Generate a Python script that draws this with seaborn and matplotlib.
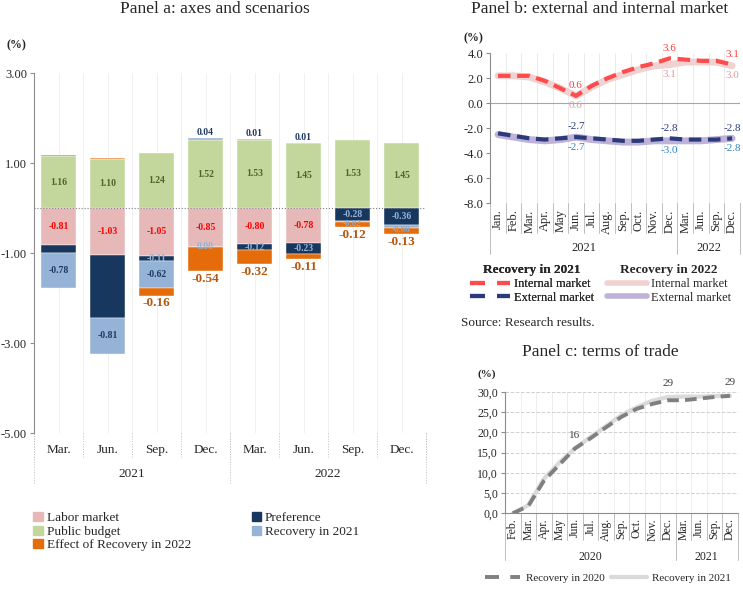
import numpy as np
import matplotlib
matplotlib.use('Agg')
import matplotlib.pyplot as plt
import matplotlib.transforms as mtransforms
from matplotlib.lines import Line2D
from matplotlib.patches import Patch
from matplotlib.ticker import FuncFormatter
import seaborn as sns

sns.set_style('white')
plt.rcParams['font.family'] = ['Liberation Serif', 'DejaVu Serif']

# ---------------- panel a : stacked contributions ----------------
quarters_a = ['Mar.', 'Jun.', 'Sep.', 'Dec.', 'Mar.', 'Jun.', 'Sep.', 'Dec.']
years_a = [('2021', 4), ('2022', 4)]
labor = [-0.81, -1.03, -1.05, -0.85, -0.80, -0.78, 0.00, 0.00]
public = [1.16, 1.10, 1.24, 1.52, 1.53, 1.45, 1.53, 1.45]
pref = [-0.19, -1.40, -0.11, 0.00, -0.12, -0.23, -0.28, -0.36]
rec21 = [-0.78, -0.81, -0.62, 0.04, 0.01, 0.01, -0.02, -0.08]
rec22 = [0.02, 0.02, -0.16, -0.54, -0.32, -0.11, -0.12, -0.13]

# ---------------- panel b : internal / external market ----------------
months_b = ['Jan.', 'Feb.', 'Mar.', 'Apr.', 'May', 'Jun.', 'Jul.', 'Aug.', 'Sep.', 'Oct.',
            'Nov.', 'Dec.', 'Mar.', 'Jun.', 'Sep.', 'Dec.']
years_b = [('2021', 12), ('2022', 4)]
int21 = [2.2, 2.2, 2.2, 1.8, 1.2, 0.6, 1.4, 2.0, 2.5, 2.9, 3.2, 3.6, 3.5, 3.4, 3.4, 3.1]
int22 = [2.2, 2.2, 2.1, 1.7, 1.2, 0.6, 1.3, 1.9, 2.3, 2.7, 3.0, 3.1, 3.3, 3.3, 3.3, 3.0]
ext21 = [-2.4, -2.6, -2.8, -2.9, -2.8, -2.7, -2.8, -2.9, -3.0, -3.0, -2.9, -2.8, -2.9, -2.9, -2.9, -2.8]
ext22 = [-2.5, -2.7, -2.9, -3.0, -2.9, -2.7, -2.9, -3.0, -3.1, -3.1, -3.0, -3.0, -3.0, -3.0, -2.9, -2.8]
lab_b = [5, 11, 15]

# ---------------- panel c : terms of trade ----------------
months_c = ['Feb.', 'Mar.', 'Apr.', 'May', 'Jun.', 'Jul.', 'Aug.', 'Sep.', 'Oct.', 'Nov.',
            'Dec.', 'Mar.', 'Jun.', 'Sep.', 'Dec.']
years_c = [('2020', 11), ('2021', 4)]
tot20 = [0.0, 1.8, 8.0, 12.0, 16.0, 18.5, 21.2, 23.8, 25.8, 27.0, 27.9, 27.9, 28.3, 28.7, 29.0]
tot21 = [0.0, 2.0, 8.5, 12.5, 16.0, 18.8, 21.5, 24.2, 26.2, 27.8, 28.7, 28.8, 28.8, 29.0, 29.0]
lab_c = [4, 10, 14]

GRAY = '#8C8C8C'
DASH = (0, (3.6, 2.9))


def group_axis(ax, labels, groups, y_lab, y_year, y_short, y_long, rot, fs, ls):
    tr = mtransforms.blended_transform_factory(ax.transData, ax.transAxes)
    kw = dict(transform=tr, clip_on=False, color='#BFBFBF', lw=0.7, ls=ls)
    for i, lab in enumerate(labels):
        if rot:
            ax.text(i, y_lab, lab, transform=tr, ha='center', va='top', rotation=90, fontsize=fs)
        else:
            ax.text(i, y_lab, lab, transform=tr, ha='center', va='center', fontsize=fs)
    for k in range(len(labels) + 1):
        ax.plot([k - 0.5, k - 0.5], [0, y_short], **kw)
    start = 0
    for name, cnt in groups:
        ax.text(start + cnt / 2 - 0.5, y_year, name, transform=tr, ha='center', va='center', fontsize=fs)
        ax.plot([start - 0.5] * 2, [0, y_long], **kw)
        start += cnt
    ax.plot([start - 0.5] * 2, [0, y_long], **kw)


fig = plt.figure(figsize=(7.43, 5.94), dpi=100)

# ============ panel a ============
axa = fig.add_axes([0.0458, 0.2705, 0.5276, 0.606])
xa = np.arange(len(quarters_a))
series = [('Labor market', labor, '#E6B9B8'),
          ('Public budget', public, '#C3D69B'),
          ('Preference', pref, '#17375E'),
          ('Recovery in 2021', rec21, '#95B3D7'),
          ('Effect of Recovery in 2022', rec22, '#E46C0A')]
pos_base = np.zeros(len(xa))
neg_base = np.zeros(len(xa))
segs = {}
for name, vals, col in series:
    v = np.array(vals)
    bottom = np.where(v > 0, pos_base, neg_base)
    axa.bar(xa, v, width=0.7, bottom=bottom, color=col, edgecolor='white', linewidth=0.3)
    segs[name] = (bottom, v)
    pos_base = pos_base + np.clip(v, 0, None)
    neg_base = neg_base + np.clip(v, None, 0)

for i in xa:
    b, v = segs['Public budget']
    axa.text(i, b[i] + v[i] / 2, f'{v[i]:.2f}', ha='center', va='center', fontsize=7,
             fontweight='bold', color='#4F6228')
    b, v = segs['Labor market']
    if v[i] != 0:
        axa.text(i, b[i] + v[i] / 2, f'{v[i]:.2f}', ha='center', va='center', fontsize=7,
                 fontweight='bold', color='#FF0000')
    b, v = segs['Preference']
    if i >= 2:
        t = f'{v[i]:.2f}' if v[i] != 0 else '0.00'
        axa.text(i, b[i] + v[i] / 2, t, ha='center', va='center', fontsize=7,
                 fontweight='bold', color='#95B3D7')
    b, v = segs['Recovery in 2021']
    if v[i] > 0:
        axa.text(i, b[i] + v[i] + 0.02, f'{v[i]:.2f}', ha='center', va='bottom', fontsize=7,
                 fontweight='bold', color='#1F3864')
    elif v[i] < -0.1:
        axa.text(i, b[i] + v[i] / 2, f'{v[i]:.2f}', ha='center', va='center', fontsize=7,
                 fontweight='bold', color='#1F3864')
    elif v[i] < 0:
        axa.text(i, b[i] + v[i] - 0.05, f'{v[i]:.2f}', ha='center', va='center', fontsize=6.5,
                 fontweight='bold', color='#8EA9C9')
    b, v = segs['Effect of Recovery in 2022']
    if v[i] < 0:
        axa.text(i, b[i] + v[i] - 0.04, f'{v[i]:.2f}', ha='center', va='top', fontsize=9.5,
                 fontweight='bold', color='#B5560F')

axa.axhline(0, color='#7F7F7F', lw=0.8, ls=':')
axa.set_ylim(-5, 3)
axa.set_xlim(-0.5, len(xa) - 0.5)
axa.set_yticks([-5, -3, -1, 1, 3])
axa.yaxis.set_major_formatter(FuncFormatter(lambda v, p: f'{v:.2f}'))
axa.set_xticks([])
axa.set_xticks(np.arange(-0.5, len(xa), 0.5), minor=True)
axa.grid(which='minor', axis='x', color='#EEEEEE', lw=0.6)
axa.tick_params(axis='x', which='both', length=0, labelbottom=False)
axa.tick_params(axis='y', length=3, color=GRAY, labelsize=9, pad=2, left=True)
for s in ['top', 'right', 'bottom']:
    axa.spines[s].set_visible(False)
axa.spines['left'].set_color(GRAY)
group_axis(axa, quarters_a, years_a, -0.047, -0.112, -0.067, -0.14, False, 9.5, ':')

fig.text(16 / 743, 1 - 45 / 594, '(%)', ha='center', va='center', fontsize=8.5, fontweight='bold')
fig.text(215 / 743, 1 - 9 / 594, 'Panel a: axes and scenarios', ha='center', va='center', fontsize=12.5)

handles_a = [Patch(color=c) for _, _, c in series]
order = [0, 1, 4, 2, 3]
fig.legend([handles_a[k] for k in order], [series[k][0] for k in order], ncol=2,
           loc='upper left', bbox_to_anchor=(0.045, 1 - 512 / 594), frameon=False,
           fontsize=9.5, handlelength=0.7, handleheight=0.7, handletextpad=0.3,
           labelspacing=0.1, columnspacing=4.6, borderaxespad=0, borderpad=0)

# ============ panel b ============
axb = fig.add_axes([0.6598, 0.6577, 0.3360, 0.2525])
xb = np.arange(len(months_b))
sns.lineplot(x=xb, y=int22, ax=axb, color='#F0D2D2', lw=5, legend=False)
sns.lineplot(x=xb, y=ext22, ax=axb, color='#BEB2DA', lw=5, legend=False)
sns.lineplot(x=xb, y=int21, ax=axb, color='#FF4B4B', lw=3, linestyle=(0, (3, 1.6)), legend=False)
sns.lineplot(x=xb, y=ext21, ax=axb, color='#2B3A78', lw=3, linestyle=(0, (3, 1.6)), legend=False)
for i in lab_b:
    axb.text(i, int21[i] + 0.45, f'{int21[i]:.1f}', ha='center', va='bottom', fontsize=8, color='#FF3B3B')
    axb.text(i, int22[i] - 0.45, f'{int22[i]:.1f}', ha='center', va='top', fontsize=8, color='#E39A9A')
    axb.text(i, ext21[i] + 0.45, f'{ext21[i]:.1f}', ha='center', va='bottom', fontsize=8, color='#2B3A78')
    axb.text(i, ext22[i] - 0.45, f'{ext22[i]:.1f}', ha='center', va='top', fontsize=8, color='#2E86C8')
axb.axhline(0, color='#A6A6A6', lw=0.8)
axb.set_ylim(-8, 4)
axb.set_xlim(-0.5, len(xb) - 0.5)
axb.set_yticks(np.arange(-8, 5, 2))
axb.yaxis.set_major_formatter(FuncFormatter(lambda v, p: f'{v:.1f}'))
axb.set_xticks([])
axb.set_xticks(np.arange(-0.5, len(xb), 1), minor=True)
axb.grid(which='minor', axis='x', color='#E8E8E8', lw=0.6)
axb.tick_params(axis='x', which='both', length=0, labelbottom=False)
axb.tick_params(axis='y', length=3, color=GRAY, labelsize=9, pad=2, left=True)
for s in ['top', 'right', 'bottom']:
    axb.spines[s].set_visible(False)
axb.spines['left'].set_color(GRAY)
group_axis(axb, months_b, years_b, -0.04, -0.30, -0.20, -0.34, True, 9, '-')

fig.text(473 / 743, 1 - 38 / 594, '(%)', ha='center', va='center', fontsize=8.5, fontweight='bold')
fig.text(600 / 743, 1 - 9 / 594, 'Panel b: external and internal market', ha='center', va='center', fontsize=12.5)

leg1 = fig.legend([Line2D([], [], color='#FF4B4B', lw=3, ls=DASH),
                   Line2D([], [], color='#2B3A78', lw=3, ls=DASH)],
                  ['Internal market', 'External market'], title='Recovery in 2021',
                  loc='upper center', bbox_to_anchor=(532 / 743, 1 - 264 / 594), frameon=False,
                  fontsize=9, title_fontproperties={'weight': 'bold', 'size': 9.5},
                  handlelength=3.2, handletextpad=0.3, labelspacing=0.15, borderaxespad=0, borderpad=0)
leg2 = fig.legend([Line2D([], [], color='#F0D2D2', lw=4),
                   Line2D([], [], color='#BEB2DA', lw=4)],
                  ['Internal market', 'External market'], title='Recovery in 2022',
                  loc='upper center', bbox_to_anchor=(669 / 743, 1 - 264 / 594), frameon=False,
                  fontsize=9, title_fontproperties={'weight': 'bold', 'size': 9.5},
                  handlelength=3.2, handletextpad=0.3, labelspacing=0.15, borderaxespad=0, borderpad=0)
fig.add_artist(leg1)
fig.text(461 / 743, 1 - 323 / 594, 'Source: Research results.', ha='left', va='center', fontsize=9.5)

# ============ panel c ============
axc = fig.add_axes([0.6797, 0.1358, 0.3133, 0.2047])
xc = np.arange(len(months_c))
sns.lineplot(x=xc, y=tot21, ax=axc, color='#DADADA', lw=3, legend=False)
sns.lineplot(x=xc, y=tot20, ax=axc, color='#808080', lw=2.8, linestyle=(0, (3, 1.6)), legend=False)
for i in lab_c:
    axc.text(i, tot21[i] + 2.2, f'{tot21[i]:.0f}', ha='center', va='bottom', fontsize=8, color='#404040')
axc.set_ylim(0, 30)
axc.set_xlim(-0.5, len(xc) - 0.5)
axc.set_yticks(np.arange(0, 31, 5))
axc.yaxis.set_major_formatter(FuncFormatter(lambda v, p: f'{v:.1f}'.replace('.', ',')))
axc.set_xticks([])
axc.set_xticks(np.arange(-0.5, len(xc), 1), minor=True)
axc.grid(which='minor', axis='x', color='#EBEBEB', lw=0.6)
axc.grid(which='major', axis='y', color='#D0D0D0', lw=0.7, ls='--')
axc.tick_params(axis='x', which='both', length=0, labelbottom=False)
axc.tick_params(axis='y', length=3, color=GRAY, labelsize=8.5, pad=2, left=True)
for s in ['top', 'right']:
    axc.spines[s].set_visible(False)
axc.spines['left'].set_color(GRAY)
axc.spines['bottom'].set_color(GRAY)
group_axis(axc, months_c, years_c, -0.04, -0.36, -0.22, -0.38, True, 8.5, '-')

fig.text(487 / 743, 1 - 374 / 594, '(%)', ha='center', va='center', fontsize=8, fontweight='bold')
fig.text(600 / 743, 1 - 352 / 594, 'Panel c: terms of trade', ha='center', va='center', fontsize=12.5)
fig.legend([Line2D([], [], color='#808080', lw=2.8, ls=DASH),
            Line2D([], [], color='#DADADA', lw=3)],
           ['Recovery in 2020', 'Recovery in 2021'], ncol=2,
           loc='center', bbox_to_anchor=(608 / 743, 1 - 578 / 594), frameon=False,
           fontsize=8, handlelength=3.2, handletextpad=0.5, columnspacing=0.6,
           borderaxespad=0, borderpad=0)

fig.savefig('out.png', dpi=100)
